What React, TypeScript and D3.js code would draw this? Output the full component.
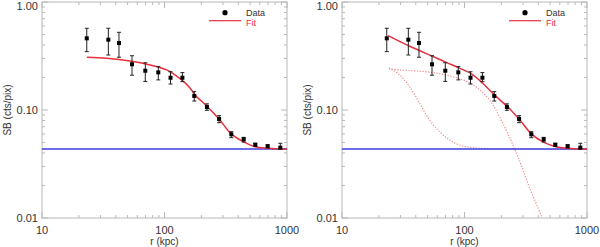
import React from "react";
import * as d3 from "d3";

// surface brightness profile
const radius = [23.2, 34.8, 42.5, 54.3, 69.7, 89, 112, 140, 175, 222, 279, 351, 443, 551, 695, 882];
const sb = [0.461, 0.448, 0.417, 0.265, 0.231, 0.223, 0.199, 0.199, 0.135, 0.1066, 0.0826, 0.0596, 0.0535, 0.0477, 0.0461, 0.0448];
const sbHi = [0.571, 0.571, 0.524, 0.318, 0.274, 0.252, 0.226, 0.222, 0.148, 0.114, 0.0886, 0.063, 0.0558, 0.0492, 0.0477, 0.0492];
const sbLo = [0.347, 0.323, 0.308, 0.21, 0.184, 0.19, 0.174, 0.183, 0.121, 0.0994, 0.0763, 0.0554, 0.0505, 0.0461, 0.0448, 0.0438];

const background = 0.0435;

// single beta model fit (left)
const fit1R = [23.2, 33.7, 52.3, 76.2, 104.2, 134, 161.5, 177.4, 221, 280, 347, 440, 548, 703, 1000];
const fit1SB = [0.308, 0.301, 0.284, 0.261, 0.235, 0.195, 0.16, 0.138, 0.109, 0.082, 0.0608, 0.0509, 0.0457, 0.0443, 0.0435];

// double beta model fit (right)
const fit2R = [23.8, 35.7, 55.3, 71, 91, 114.6, 140.9, 175.4, 225, 280, 348, 433, 557, 692, 1000];
const fit2SB = [0.488, 0.389, 0.313, 0.276, 0.244, 0.215, 0.177, 0.138, 0.107, 0.082, 0.0608, 0.0509, 0.0457, 0.0443, 0.0434];

// components (dotted)
const extR = [24.2, 29.6, 55.3, 91, 124, 160, 193, 232, 280, 337, 420, 440];
const extSB = [0.24, 0.235, 0.222, 0.195, 0.164, 0.124, 0.0867, 0.0566, 0.0344, 0.0195, 0.01066, 0.009];
const coreR = [24.2, 29.6, 35.7, 43.1, 51.9, 62.6, 75.5, 91, 116.8, 150, 250, 1000];
const coreSB = [0.246, 0.211, 0.164, 0.115, 0.0808, 0.063, 0.0528, 0.0474, 0.0448, 0.0439, 0.0436, 0.0435];

const xTickLabels = ["10", "100", "1000"];
const yTickLabels = ["0.01", "0.10", "1.00"];

const RED = "#e8303c";
const BLUE = "#3c3cdc";
const FRAME = "#b8b8b8";
const TEXT = "#333";
const FONT = "Arial, 'Liberation Sans', sans-serif";

type PanelProps = {
  left: number;
  fitR: number[];
  fitSB: number[];
  comps?: { r: number[]; v: number[] }[];
  id: string;
};

const Panel = ({ left, fitR, fitSB, comps, id }: PanelProps) => {
  const top = 2;
  const bottom = 218;
  const right = left + 245;

  const x = d3.scaleLog().domain([10, 1000]).range([left, right]);
  const y = d3.scaleLog().domain([0.01, 1]).range([bottom, top]);

  const line = d3
    .line<[number, number]>()
    .x((d) => x(d[0]))
    .y((d) => y(d[1]))
    .curve(d3.curveCatmullRom.alpha(0.5));

  const xt = x.ticks();
  const yt = y.ticks();
  const isMajor = (v: number) => Math.abs(Math.log10(v) - Math.round(Math.log10(v))) < 1e-6;

  return (
    <g>
      <defs>
        <clipPath id={id}>
          <rect x={left} y={top} width={right - left} height={bottom - top} />
        </clipPath>
      </defs>

      {/* frame + ticks */}
      <rect x={left} y={top} width={right - left} height={bottom - top} fill="none" stroke={FRAME} strokeWidth={1} />
      {xt.map((t, i) => {
        const len = isMajor(t) ? 6 : 3;
        return (
          <g key={"x" + i} stroke={FRAME}>
            <line x1={x(t)} x2={x(t)} y1={bottom} y2={bottom - len} />
            <line x1={x(t)} x2={x(t)} y1={top} y2={top + len} />
          </g>
        );
      })}
      {yt.map((t, i) => {
        const len = isMajor(t) ? 6 : 3;
        return (
          <g key={"y" + i} stroke={FRAME}>
            <line x1={left} x2={left + len} y1={y(t)} y2={y(t)} />
            <line x1={right} x2={right - len} y1={y(t)} y2={y(t)} />
          </g>
        );
      })}

      {/* tick labels */}
      {xTickLabels.map((s) => (
        <text key={s} x={x(+s)} y={233.5} textAnchor="middle" fontSize={11} fill={TEXT} fontFamily={FONT}>
          {s}
        </text>
      ))}
      {yTickLabels.map((s) => (
        <text
          key={s}
          x={left - 4}
          y={Math.max(y(+s) + 4, 10)}
          textAnchor="end"
          fontSize={11}
          fill={TEXT}
          fontFamily={FONT}
        >
          {s}
        </text>
      ))}

      {/* axis titles */}
      <text x={(left + right) / 2} y={245} textAnchor="middle" fontSize={10} fill={TEXT} fontFamily={FONT}>
        r (kpc)
      </text>
      <text
        transform={`translate(${left - 31},${(top + bottom) / 2}) rotate(-90)`}
        textAnchor="middle"
        fontSize={10}
        fill={TEXT}
        fontFamily={FONT}
      >
        SB (cts/pix)
      </text>

      <g clipPath={`url(#${id})`}>
        {/* dotted components */}
        {comps?.map((c, i) => (
          <path
            key={i}
            d={line(c.r.map((r, j) => [r, c.v[j]] as [number, number])) || ""}
            fill="none"
            stroke="#f08a8a"
            strokeWidth={1.2}
            strokeDasharray="1.2,1.6"
          />
        ))}
        {/* background */}
        <line x1={left} x2={right} y1={y(background)} y2={y(background)} stroke={BLUE} strokeWidth={1.5} />
        {/* fit */}
        <path
          d={line(fitR.map((r, j) => [r, fitSB[j]] as [number, number])) || ""}
          fill="none"
          stroke={RED}
          strokeWidth={1.5}
        />
      </g>

      {/* data with error bars */}
      {radius.map((r, i) => (
        <g key={"d" + i} stroke="#222" strokeWidth={1}>
          <line x1={x(r)} x2={x(r)} y1={y(sbLo[i])} y2={y(sbHi[i])} />
          <line x1={x(r) - 2} x2={x(r) + 2} y1={y(sbLo[i])} y2={y(sbLo[i])} />
          <line x1={x(r) - 2} x2={x(r) + 2} y1={y(sbHi[i])} y2={y(sbHi[i])} />
          <rect x={x(r) - 2} y={y(sb[i]) - 2} width={4} height={4} fill="#000" stroke="none" />
        </g>
      ))}

      {/* legend */}
      <circle cx={left + 183} cy={12.7} r={2.6} fill="#000" />
      <text x={left + 204} y={16} fontSize={9} fill={TEXT} fontFamily={FONT}>
        Data
      </text>
      <line x1={left + 167} x2={left + 199} y1={20.7} y2={20.7} stroke={RED} strokeWidth={1.2} />
      <text x={left + 204} y={25.5} fontSize={9} fill={RED} fontFamily={FONT}>
        Fit
      </text>
    </g>
  );
};

export default function App() {
  return (
    <svg
      width={600}
      height={247}
      style={{ position: "absolute", left: 0, top: 0, background: "#fff" }}
    >
      <Panel left={42} fitR={fit1R} fitSB={fit1SB} id="c1" />
      <Panel
        left={342}
        fitR={fit2R}
        fitSB={fit2SB}
        id="c2"
        comps={[
          { r: extR, v: extSB },
          { r: coreR, v: coreSB },
        ]}
      />
    </svg>
  );
}
